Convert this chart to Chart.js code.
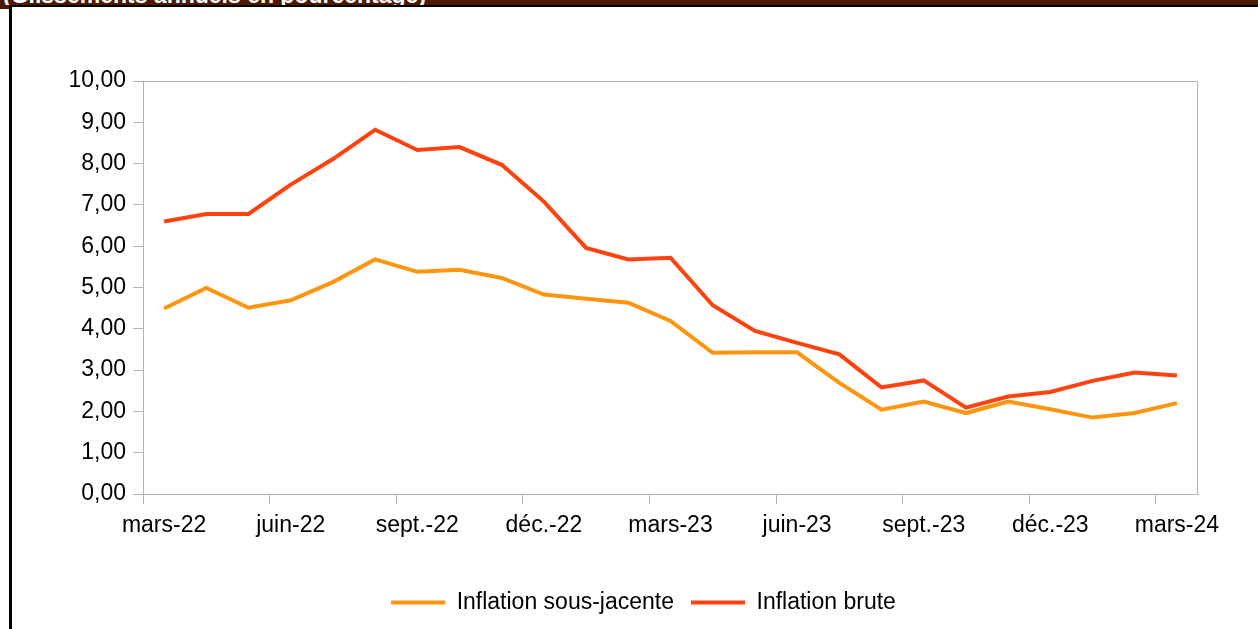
<!DOCTYPE html>
<html lang="fr">
<head>
<meta charset="utf-8">
<title>Inflation sous-jacente et inflation brute</title>
<script src="https://cdn.jsdelivr.net/npm/chart.js@4.4.1/dist/chart.umd.min.js"></script>
<style>
  html, body { margin: 0; padding: 0; background: #fff; }
  body { width: 1258px; height: 629px; position: relative; overflow: hidden; }
  #bar { position: absolute; left: 0; top: 0; width: 1258px; height: 5px; background: #4d1a00; overflow: hidden; }
  #bar span { position: absolute; left: 3px; top: -16px; color: #fff; font: bold 23px "Liberation Sans", Arial, sans-serif; white-space: nowrap; line-height: 23px; }
  #corner { position: absolute; left: 0; top: 0; width: 9px; height: 9px; background: #4d1a00; }
  #rule { position: absolute; left: 9px; top: 5px; width: 1249px; height: 2px; background: #000; }
  #edge { position: absolute; left: 9px; top: 5px; width: 3px; height: 624px; background: #000; }
  #chart { position: absolute; left: 12px; top: 7px; }
</style>
</head>
<body>
<div id="corner"></div>
<div id="bar"><span>(Glissements annuels en pourcentage)</span></div>
<div id="rule"></div>
<div id="edge"></div>
<canvas id="chart" width="1246" height="622"></canvas>
<script>
// months, mars-22 .. mars-24
const months = [
    'mars-22', 'avr.-22', 'mai-22', 'juin-22', 'juil.-22', 'août-22', 'sept.-22', 'oct.-22', 'nov.-22', 'déc.-22',
    'janv.-23', 'févr.-23', 'mars-23', 'avr.-23', 'mai-23', 'juin-23', 'juil.-23', 'août-23', 'sept.-23', 'oct.-23',
    'nov.-23', 'déc.-23', 'janv.-24', 'févr.-24', 'mars-24'
];
const sousJacente = [4.49, 4.99, 4.51, 4.69, 5.13, 5.68, 5.38, 5.43, 5.23, 4.83, 4.73, 4.63, 4.19, 3.42, 3.43, 3.43, 2.69, 2.04, 2.24, 1.96, 2.24, 2.05, 1.85, 1.96, 2.20];
const brute = [6.60, 6.78, 6.78, 7.49, 8.11, 8.82, 8.33, 8.40, 7.97, 7.08, 5.96, 5.68, 5.72, 4.57, 3.95, 3.66, 3.38, 2.58, 2.75, 2.09, 2.36, 2.47, 2.74, 2.94, 2.87];
const yTicks = [0, 1, 2, 3, 4, 5, 6, 7, 8, 9, 10];

const axisGray = '#b3b3b3';
const font = { family: '"Liberation Sans", Arial, sans-serif', size: 23 };

// frame around the plot area (top and right sides)
const plotFrame = {
    id: 'plotFrame',
    afterDraw(chart) {
        const { ctx, chartArea: a } = chart;
        ctx.save();
        ctx.strokeStyle = axisGray;
        ctx.lineWidth = 1;
        ctx.beginPath();
        ctx.moveTo(a.left, a.top + 0.5);
        ctx.lineTo(a.right - 0.5, a.top + 0.5);
        ctx.lineTo(a.right - 0.5, a.bottom);
        ctx.stroke();
        ctx.restore();
    }
};

new Chart(document.getElementById('chart'), {
    type: 'line',
    data: {
        labels: months,
        datasets: [
            {
                label: 'Inflation sous-jacente',
                data: sousJacente,
                borderColor: '#ff950e',
                backgroundColor: '#ff950e',
                borderWidth: 4,
                pointRadius: 0,
                tension: 0,
                order: 1
            },
            {
                label: 'Inflation brute',
                data: brute,
                borderColor: '#ff420e',
                backgroundColor: '#ff420e',
                borderWidth: 4,
                pointRadius: 0,
                tension: 0,
                order: 0
            }
        ]
    },
    options: {
        responsive: false,
        animation: false,
        devicePixelRatio: 1,
        layout: { padding: { left: 17, right: 0, top: 74, bottom: 5 } },
        plugins: {
            tooltip: { enabled: false },
            legend: {
                position: 'bottom',
                labels: {
                    font: font,
                    color: '#000',
                    boxWidth: 54,
                    boxHeight: 0,
                    padding: 17,
                    sort: (a, b) => a.datasetIndex - b.datasetIndex
                }
            }
        },
        scales: {
            x: {
                offset: true,
                grid: {
                    offset: true,
                    drawOnChartArea: false,
                    tickLength: 10,
                    color: c => (c.index % 3 === 0 ? axisGray : 'transparent')
                },
                border: { color: axisGray, width: 1 },
                ticks: {
                    autoSkip: false,
                    maxRotation: 0,
                    padding: 8,
                    color: '#000',
                    font: font,
                    callback: (v, i) => (i % 3 === 0 ? months[i] : '')
                },
                afterFit: s => { s.height = 80; }
            },
            y: {
                min: 0,
                max: 10,
                afterBuildTicks: s => { s.ticks = yTicks.map(v => ({ value: v })); },
                grid: { drawOnChartArea: false, tickLength: 10, color: axisGray },
                border: { color: axisGray, width: 1 },
                ticks: {
                    padding: 7,
                    color: '#000',
                    font: font,
                    callback: v => v.toFixed(2).replace('.', ',')
                },
                afterFit: s => { s.width = 114; }
            },
            yRight: {
                position: 'right',
                display: true,
                ticks: { display: false },
                grid: { display: false },
                border: { display: false },
                afterFit: s => { s.width = 60; }
            }
        }
    },
    plugins: [plotFrame]
});
</script>
</body>
</html>
